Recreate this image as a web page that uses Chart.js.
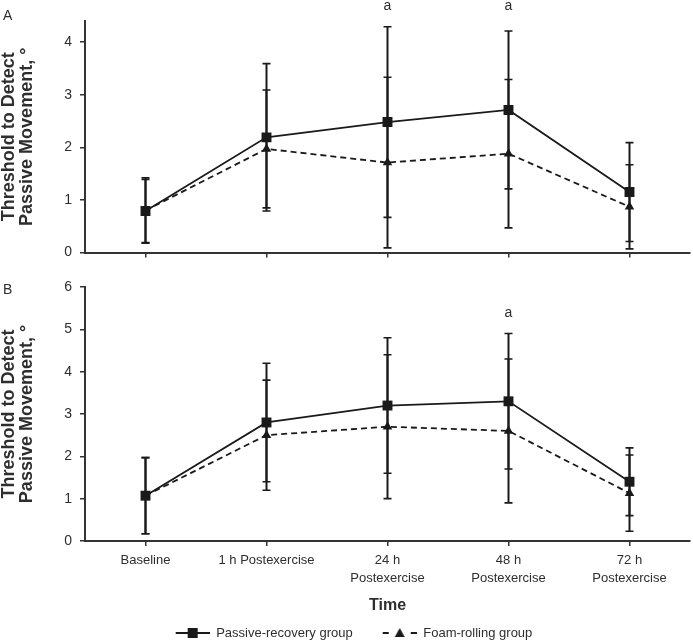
<!DOCTYPE html>
<html>
<head>
<meta charset="utf-8">
<script src="https://cdn.jsdelivr.net/npm/chart.js@4.4.1/dist/chart.umd.min.js"></script>
<style>
    body { margin: 0; background: #fff; overflow: hidden; }
    .panel { position: absolute; left: 0; }
</style>
</head>
<body>
<div class="panel" style="top:0"><canvas id="chartA" width="693" height="269"></canvas></div>
<div class="panel" style="top:262px"><canvas id="chartB" width="693" height="392"></canvas></div>
<script>
// Categories (x axis)
const timeLabels = ['Baseline', '1 h Postexercise', ['24 h', 'Postexercise'], ['48 h', 'Postexercise'], ['72 h', 'Postexercise']];

// Panel A - means and SDs, degrees
const passiveA = [0.79, 2.19, 2.48, 2.71, 1.15];
const passiveSdA = [0.6, 1.4, 1.81, 1.5, 0.94];
const foamA = [0.8, 1.97, 1.71, 1.88, 0.87];
const foamSdA = [0.62, 1.12, 1.62, 1.41, 0.8];
const sigA = ['', '', 'a', 'a', ''];

// Panel B - means and SDs, degrees
const passiveB = [1.07, 2.8, 3.2, 3.3, 1.4];
const passiveSdB = [0.9, 1.4, 1.6, 1.6, 0.8];
const foamB = [1.07, 2.5, 2.7, 2.6, 1.13];
const foamSdB = [0.9, 1.3, 1.7, 1.7, 0.9];
const sigB = ['', '', '', 'a', ''];

const FONT = "'Liberation Sans', Arial, sans-serif";
const INK = '#1a1a1a';
const TEXT = '#2e2e2e';

Chart.defaults.font.family = FONT;
Chart.defaults.color = TEXT;
Chart.defaults.animation = false;

// Error bars (mean +/- SD) drawn from the y scale
const errorBars = {
    id: 'errorBars',
    beforeDatasetsDraw(chart) {
        const ctx = chart.ctx;
        const y = chart.scales.y;
        ctx.save();
        ctx.strokeStyle = INK;
        chart.data.datasets.forEach((ds, i) => {
            chart.getDatasetMeta(i).data.forEach((pt, j) => {
                const top = y.getPixelForValue(ds.data[j] + ds.sd[j]);
                const bot = y.getPixelForValue(ds.data[j] - ds.sd[j]);
                ctx.lineWidth = 2;
                ctx.beginPath();
                ctx.moveTo(pt.x, top);
                ctx.lineTo(pt.x, bot);
                ctx.stroke();
                ctx.lineWidth = 1.6;
                ctx.beginPath();
                ctx.moveTo(pt.x - 4, top); ctx.lineTo(pt.x + 4, top);
                ctx.moveTo(pt.x - 4, bot); ctx.lineTo(pt.x + 4, bot);
                ctx.stroke();
            });
        });
        ctx.restore();
    }
};

// Panel letter and significance marks
const marks = {
    id: 'marks',
    afterDraw(chart, args, opts) {
        const ctx = chart.ctx;
        const x = chart.scales.x;
        const y = chart.scales.y;
        ctx.save();
        ctx.fillStyle = TEXT;
        ctx.font = '14px ' + FONT;
        ctx.textBaseline = 'alphabetic';
        ctx.textAlign = 'left';
        ctx.fillText(opts.panel, 3, opts.panelY);
        ctx.textAlign = 'center';
        opts.sig.forEach((s, i) => {
            if (s) ctx.fillText(s, x.getPixelForValue(i), y.getPixelForValue(opts.sigAt));
        });
        ctx.restore();
    }
};

// Legend symbols: line with marker (blank strip on the left gives the gap between items)
function legendIcon(kind) {
    const c = document.createElement('canvas');
    c.width = 52;
    c.height = 14;
    const g = c.getContext('2d');
    g.strokeStyle = INK;
    g.fillStyle = INK;
    g.lineWidth = 2;
    g.beginPath();
    if (kind === 'rect') {
        g.moveTo(18, 7); g.lineTo(52, 7); g.stroke();
        g.fillRect(30, 2, 10, 10);
    } else {
        g.moveTo(18, 7); g.lineTo(24, 7);
        g.moveTo(46, 7); g.lineTo(52, 7);
        g.stroke();
        g.beginPath();
        g.moveTo(35, 2); g.lineTo(40, 11); g.lineTo(30, 11);
        g.closePath();
        g.fill();
    }
    return c;
}
const icons = [legendIcon('rect'), legendIcon('triangle')];

function makeChart(id, passive, passiveSd, foam, foamSd, opt) {
    return new Chart(document.getElementById(id), {
        type: 'line',
        data: {
            labels: timeLabels,
            datasets: [
                {
                    label: 'Passive-recovery group',
                    data: passive,
                    sd: passiveSd,
                    borderColor: INK,
                    borderWidth: 1.8,
                    pointStyle: 'rect',
                    pointRadius: 7,
                    pointBackgroundColor: INK,
                    pointBorderColor: INK,
                    pointBorderWidth: 0,
                },
                {
                    label: 'Foam-rolling group',
                    data: foam,
                    sd: foamSd,
                    borderColor: INK,
                    borderWidth: 1.8,
                    borderDash: [6, 4],
                    pointStyle: 'triangle',
                    pointRadius: 5.5,
                    pointBackgroundColor: INK,
                    pointBorderColor: INK,
                    pointBorderWidth: 0,
                },
            ],
        },
        options: {
            responsive: false,
            layout: { autoPadding: false, padding: { left: 0, right: 3, top: opt.padTop, bottom: opt.padBottom } },
            scales: {
                x: {
                    offset: true,
                    afterFit: (s) => { s.height = opt.xHeight; },
                    grid: { drawOnChartArea: false, offset: false, tickLength: 5, color: '#333', lineWidth: 1.5 },
                    border: { color: '#333', width: 2 },
                    ticks: {
                        display: opt.showX,
                        autoSkip: false,
                        maxRotation: 0,
                        padding: 6,
                        font: { size: 13, lineHeight: 1.35 },
                        color: TEXT,
                    },
                    title: {
                        display: opt.showX,
                        text: 'Time',
                        font: { size: 16, weight: 'bold', lineHeight: 1 },
                        color: TEXT,
                        padding: { top: 9, bottom: 0.5 },
                    },
                },
                y: {
                    min: 0,
                    max: opt.yMax,
                    ticks: { stepSize: 1, padding: 8, font: { size: 14 }, color: TEXT },
                    afterBuildTicks: (s) => { s.ticks = s.ticks.filter(t => Number.isInteger(t.value)); },
                    afterFit: (s) => { s.width = 85; },
                    grid: { drawOnChartArea: false, tickLength: 5, color: '#333', lineWidth: 1.5 },
                    border: { color: '#333', width: 2 },
                    title: {
                        display: true,
                        text: ['Threshold to Detect', 'Passive Movement, °'],
                        font: { size: 18, weight: 'bold', lineHeight: 1 },
                        color: TEXT,
                        padding: 0,
                    },
                },
            },
            plugins: {
                tooltip: { enabled: false },
                legend: {
                    display: opt.showX,
                    position: 'bottom',
                    labels: {
                        usePointStyle: true,
                        pointStyleWidth: 52,
                        padding: 12,
                        font: { size: 13 },
                        color: TEXT,
                        generateLabels: (chart) => chart.data.datasets.map((ds, i) => ({
                            text: ds.label,
                            pointStyle: icons[i],
                            fillStyle: INK,
                            strokeStyle: INK,
                            lineWidth: 0,
                            hidden: false,
                            datasetIndex: i,
                            fontColor: TEXT,
                        })),
                    },
                },
                marks: { panel: opt.panel, panelY: opt.panelY, sig: opt.sig, sigAt: opt.sigAt },
            },
        },
        plugins: [errorBars, marks],
    });
}

makeChart('chartA', passiveA, passiveSdA, foamA, foamSdA,
    { yMax: 4.4, padTop: 21, padBottom: 5, xHeight: 5, showX: false, panel: 'A', panelY: 20, sig: sigA, sigAt: 4.6 });
makeChart('chartB', passiveB, passiveSdB, foamB, foamSdB,
    { yMax: 6, padTop: 25, padBottom: 4.5, xHeight: 73.5, showX: true, panel: 'B', panelY: 32, sig: sigB, sigAt: 5.3 });
</script>
</body>
</html>
